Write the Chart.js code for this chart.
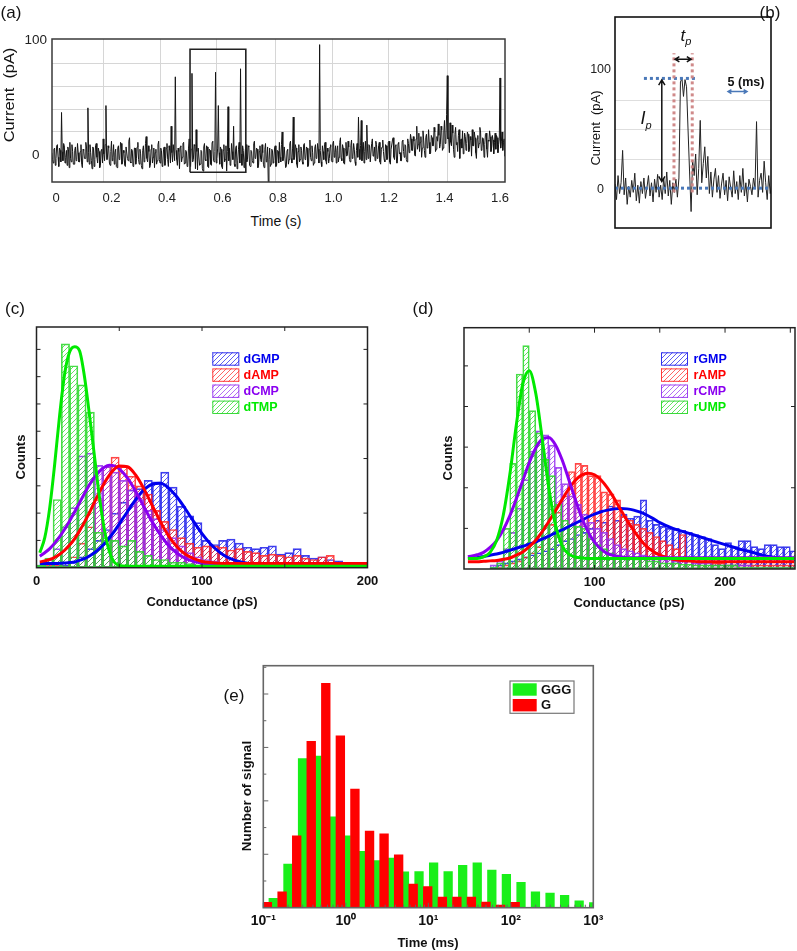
<!doctype html>
<html lang="en">
<head>
<meta charset="utf-8">
<title>Current trace and conductance histograms</title>
<script src="https://cdn.jsdelivr.net/npm/chart.js@4.4.1/dist/chart.umd.min.js"></script>
<style>
  body { margin: 0; background: #fff; font-family: 'Liberation Sans', Arial, sans-serif; }
  #page { position: relative; width: 797px; height: 951px; overflow: hidden; }
  canvas { position: absolute; }
  .t { position: absolute; transform: translate(-50%, -50%); white-space: nowrap; color: #111; line-height: 1; }
  .lbl { font-size: 17px; }
  .b { font-weight: bold; font-size: 13px; }
</style>
</head>
<body>
<div id="page">
  <canvas id="chartA" style="left:0;top:20px" width="530" height="190"></canvas>
  <canvas id="chartB" style="left:580px;top:5px" width="200" height="235"></canvas>
  <canvas id="chartC" style="left:0;top:315px" width="385" height="295"></canvas>
  <canvas id="chartD" style="left:420px;top:315px" width="377" height="295"></canvas>
  <canvas id="chartE" style="left:225px;top:655px" width="385" height="295"></canvas>

  <div class="t lbl" style="left:11px;top:12px">(a)</div>
  <div class="t lbl" style="left:770px;top:12px">(b)</div>
  <div class="t lbl" style="left:15px;top:308px">(c)</div>
  <div class="t lbl" style="left:423px;top:308px">(d)</div>
  <div class="t lbl" style="left:234px;top:695px">(e)</div>

  <div class="t" style="left:9px;top:95px;font-size:14px;transform:translate(-50%,-50%) rotate(-90deg) scaleX(1.17)">Current&nbsp; (pA)</div>
  <div class="t" style="left:276px;top:221px;font-size:14px">Time (s)</div>

  <div class="t" style="left:595px;top:128px;font-size:13px;transform:translate(-50%,-50%) rotate(-90deg)">Current&nbsp; (pA)</div>
  <div class="t" style="left:686px;top:37px;font-size:17px;font-style:italic">t<sub style="font-size:11px">p</sub></div>
  <div class="t" style="left:646px;top:120px;font-size:18px;font-style:italic">I<sub style="font-size:11px">p</sub></div>
  <div class="t b" style="left:746px;top:82px;font-size:12.5px">5 (ms)</div>

  <div class="t b" style="left:20px;top:457px;transform:translate(-50%,-50%) rotate(-90deg)">Counts</div>
  <div class="t b" style="left:202px;top:601px">Conductance (pS)</div>
  <div class="t b" style="left:447px;top:458px;transform:translate(-50%,-50%) rotate(-90deg)">Counts</div>
  <div class="t b" style="left:629px;top:602px">Conductance (pS)</div>
  <div class="t b" style="left:247px;top:796px;font-size:13.5px;transform:translate(-50%,-50%) rotate(-90deg)">Number of signal</div>
  <div class="t b" style="left:428px;top:942px">Time (ms)</div>
</div>

<script>
// ---------- (a) current trace, 1.6 s ----------
const traceAStart = -0.015;   // s
const traceAStep = 0.0025;    // s
const traceA = [
  2,-4,-7,5,6,-9,-3,8,9,-2,-10,6,4,-6,37,3,-5,10,8,-7,-2,4,-9,7,5,-11,11,-3,-6,9,3,-8,-8,4,7,-5,-4,10,2,-6,
  -6,3,9,-8,-11,5,4,-3,-3,11,7,-6,41,2,-8,9,2,-5,-12,7,6,-10,-4,8,10,-2,-7,6,3,-11,-9,4,5,-7,14,1,-5,9,43,-4,
  -4,8,6,-7,-9,3,12,-5,-2,9,-8,2,5,-10,-11,6,8,-4,-3,11,10,-8,-6,4,2,-9,-10,7,7,-3,-5,12,15,-6,-7,5,4,-10,-9,6,
  6,-8,-3,7,11,-4,-8,5,1,-9,-12,4,8,-6,-4,10,16,-3,-6,8,3,-11,-9,5,9,-7,-2,6,-11,2,5,-8,-5,9,12,-4,-7,6,4,-10,
  -8,5,7,-9,-3,6,10,-4,-10,8,4,-7,25,2,-6,9,9,-5,68,4,-4,-9,6,3,-12,7,8,-6,-2,10,11,-8,-7,4,3,-10,-9,6,14,-3,
  -10,5,71,-6,-4,9,8,-12,22,3,-13,6,6,-9,-8,4,3,-12,-14,7,10,-4,-5,8,7,-10,-11,5,4,-8,-9,11,12,-5,-6,3,72,-7,-3,6,
  43,2,-8,7,5,-10,-12,4,9,-6,-4,8,-14,3,42,-5,6,-9,-7,10,3,-4,25,-8,-10,6,8,-12,-5,5,11,-7,75,1,-9,8,4,-11,-6,5,
  9,-6,-4,8,7,-9,-10,4,3,-5,-7,10,12,-3,-2,6,5,-11,-9,3,8,-4,-6,9,2,-8,-11,5,10,-6,-3,7,-25,-4,6,-10,-8,5,4,-7,
  -5,6,8,-10,-9,4,3,-7,11,-2,-6,9,20,-5,-3,7,7,-11,-10,4,5,-8,-4,10,12,-3,-7,6,33,-4,-2,9,6,-8,-11,3,9,-6,-4,7,
  4,-6,-8,9,10,-4,-3,7,6,-10,-9,5,13,-2,-5,8,2,-9,-7,6,9,-3,-2,10,5,-7,96,4,-6,-10,8,3,-4,9,11,-5,-8,6,3,-7,
  -3,7,9,-5,-6,10,12,-2,2,8,-7,4,8,-6,-2,11,15,-3,-5,9,6,-7,-8,5,11,-1,0,12,7,-4,-6,8,13,-3,-1,10,5,-6,-9,4,
  10,-2,33,5,-4,8,30,-5,6,11,-7,3,12,-4,26,6,-3,9,8,-6,-6,10,14,-1,1,7,-5,12,9,-3,-2,8,11,-6,-8,5,7,13,3,-4,
  -6,9,8,-4,-3,11,12,-6,-8,5,5,13,15,-2,-4,8,9,-7,-7,10,11,1,2,-5,-5,12,13,3,-2,9,8,-4,-6,14,10,2,6,18,14,4,
  4,16,12,0,-1,14,25,5,9,19,3,11,16,-2,6,21,13,4,-2,15,18,6,7,22,11,1,2,17,15,8,8,24,20,3,5,16,12,27,17,6,
  9,25,22,4,6,20,30,10,12,35,69,14,15,2,28,11,8,26,19,5,-2,18,24,9,11,3,17,22,-3,12,14,6,21,1,7,19,16,4,10,20,
  18,3,5,16,13,-1,22,8,8,20,15,2,-3,14,17,6,10,24,20,4,6,15,14,-2,9,18,19,5,-2,13,12,21,16,3,7,17,13,1,11,19,
  5,17,15,2,9,14,67,6,12,20,4,11,14,-1,8,16
];
const timeTicksA = [0, 0.2, 0.4, 0.6, 0.8, 1.0, 1.2, 1.4, 1.6];
const timeTickTextA = ['0', '0.2', '0.4', '0.6', '0.8', '1.0', '1.2', '1.4', '1.6'];
const gridTimesA = [0.17, 0.375, 0.58, 0.79, 0.995, 1.197, 1.409];
const currentTicksA = [0, 20, 40, 60, 80, 100];
const zoomBoxTimeA = [0.483, 0.684, 0.684, 0.483, 0.483];
const zoomBoxCurrentA = [-15, -15, 92, 92, -15];

// ---------- (b) single event, ms ----------
const traceBStep = 0.4;       // ms
const traceB = [
  5,-8,12,-3,6,33,-4,10,-12,3,
  -6,8,-2,14,-9,4,-11,7,-3,10,
  -7,2,12,-5,6,-10,9,-2,13,-6,
  4,-8,10,-3,15,-5,8,-12,6,-2,
  9,-6,10,90,93,78,92,86,50,15,
  -18,25,12,30,-4,18,58,6,22,36,
  10,28,-3,15,-6,9,18,-2,12,-7,
  5,14,-4,8,-9,11,2,-6,16,-3,
  7,-8,12,-2,18,-5,6,-10,9,3,
  -4,10,2,57,-6,8,14,-2,24,6,
  -8,12,-3,5
];
const currentTicksB = [0, 25, 50, 75, 100];
const baseTimeB = [0, 41];
const baseCurB = [1.5, 1.5];
const peakTimeB = [7.6, 21.3];
const peakCurB = [93, 93];
const dwellStartB = [15.5, 15.5];
const dwellEndB = [20.3, 20.3];
const dwellCurB = [-2, 114];

// ---------- (c) deoxynucleotides ----------
const binsC = [2.5,7.5,12.5,17.5,22.5,27.5,32.5,37.5,42.5,47.5,52.5,57.5,62.5,67.5,72.5,77.5,82.5,87.5,92.5,97.5,
  102.5,107.5,112.5,117.5,122.5,127.5,132.5,137.5,142.5,147.5,152.5,157.5,162.5,167.5,172.5,177.5,182.5,187.5,192.5,197.5];
const dGMP = [0,0,0.05,0.1,0.2,0.4,0.7,1.0,1.4,2.0, 2.4,2.85,2.9,3.2,3.15,3.5,2.95,2.25,1.9,1.65,
  1.0,0.85,1.0,1.05,0.9,0.75,0.7,0.75,0.8,0.5, 0.55,0.7,0.45,0.35,0.4,0.3,0.25,0.05,0,0];
const dAMP = [0,0.1,0.1,0.2,0.4,0.9,1.5,2.5,3.7,4.05, 3.7,3.35,3.0,2.7,2.1,1.7,1.4,1.1,0.9,0.75,
  0.8,0.8,0.75,0.65,0.7,0.6,0.55,0.45,0.5,0.45, 0.4,0.45,0.35,0.3,0.4,0.45,0.1,0.05,0.05,0.05];
const dCMP = [0.1,0.3,0.7,1.5,2.2,4.1,4.2,3.75,3.7,3.5, 3.2,2.85,2.5,2.1,1.8,1.4,1.1,0.8,0.55,0.4,
  0.3,0.25,0.2,0.2,0.15,0.15,0.1,0.1,0.05,0.05, 0.05,0,0,0,0,0,0,0,0,0];
const dTMP = [0.1,0.35,2.5,8.2,7.4,6.7,5.7,1.3,1.1,1.0, 0.8,1.0,0.6,0.45,0.3,0.3,0.2,0.2,0.15,0.1,
  0.1,0.1,0.05,0.05,0.05,0,0,0,0,0, 0,0,0,0,0,0,0,0,0,0];
const fitXC = [2,5,8,11,14,17,20,23,26,29,32,35,38,41,44,47,50,55,60,65,70,75,80,85,90,95,100,105,110,115,120,130,140,160,180,200];
const fitGMPc = [0.15,0.15,0.15,0.15,0.16,0.17,0.19,0.21,0.27,0.33,0.43,0.55,0.7,0.88,1.09,1.33,1.6,2.06,2.5,2.86,
  3.06,3.09,2.91,2.58,2.15,1.69,1.25,0.88,0.6,0.39,0.27,0.14,0.11,0.1,0.1,0.1];
const fitAMPc = [0.21,0.25,0.3,0.38,0.49,0.64,0.83,1.06,1.35,1.67,2.02,2.4,2.76,3.1,3.39,3.61,3.73,3.7,3.39,2.88,
  2.27,1.67,1.15,0.76,0.49,0.33,0.23,0.19,0.16,0.15,0.15,0.15,0.15,0.15,0.15,0.15];
const fitCMPc = [0.42,0.55,0.7,0.9,1.14,1.41,1.71,2.04,2.38,2.72,3.04,3.31,3.53,3.68,3.75,3.73,3.62,3.28,2.79,2.22,
  1.67,1.19,0.8,0.53,0.34,0.23,0.16,0.13,0.11,0.1,0.1,0.1,0.1,0.1,0.1,0.1];
const fitTMPc = [0.55,1.1,2.2,3.8,5.6,7.1,7.9,8.1,7.95,7.0,5.6,4.1,2.6,1.4,0.6,0.2,0.08,0.05,0.05,0.05,
  0.05,0.05,0.05,0.05,0.05,0.05,0.05,0.05,0.05,0.05,0.05,0.05,0.05,0.05,0.05,0.05];
const condTicksC = [0, 100, 200];

// ---------- (d) ribonucleotides ----------
const binsD = [2.5,7.5,12.5,17.5,22.5,27.5,32.5,37.5,42.5,47.5,52.5,57.5,62.5,67.5,72.5,77.5,82.5,87.5,92.5,97.5,
  102.5,107.5,112.5,117.5,122.5,127.5,132.5,137.5,142.5,147.5,152.5,157.5,162.5,167.5,172.5,177.5,182.5,187.5,192.5,197.5,
  202.5,207.5,212.5,217.5,222.5,227.5,232.5,237.5,242.5,247.5,252.5];
const rGMP = [0,0,0,0,0.05,0.1,0.15,0.2,0.25,0.3, 0.35,0.4,0.45,0.5,0.6,0.7,0.75,0.85,0.9,1.0,
  1.2,1.15,1.55,1.2,1.35,1.25,1.3,1.7,1.2,1.1, 1.05,1.0,1.0,0.95,0.9,0.85,0.8,0.75,0.6,0.5,
  0.65,0.55,0.7,0.7,0.55,0.5,0.6,0.6,0.55,0.55,0.45];
const rAMP = [0,0,0,0,0,0.05,0.1,0.15,0.2,0.3, 0.4,0.55,0.8,1.1,1.4,1.8,2.4,2.6,2.55,2.3,
  2.3,1.9,1.85,1.7,1.3,1.2,1.1,1.0,0.9,0.8, 0.7,0.6,0.5,0.85,0.3,0.25,0.2,0.2,0.15,0.15,
  0.1,0.1,0.1,0.1,0.1,0.1,0.1,0.1,0.1,0.1,0.1];
const rCMP = [0,0,0,0,0.1,0.2,0.5,0.9,1.5,2.2, 2.9,3.4,3.3,3.05,2.5,2.1,1.8,1.6,1.35,1.15,
  1.0,0.9,0.75,0.6,0.5,0.45,0.4,0.35,0.3,0.3, 0.25,0.25,0.2,0.2,0.2,0.15,0.15,0.15,0.1,0.1,
  0.1,0.1,0.1,0.1,0.05,0.05,0.05,0.05,0.05,0.05,0.05];
const rUMP = [0,0,0,0,0.05,0.15,1.0,2.6,4.8,5.5, 3.9,3.35,2.7,2.3,1.6,1.2,1.1,1.05,1.0,0.75,
  0.6,0.5,0.4,0.35,0.3,0.3,0.25,0.3,0.2,0.2, 0.15,0.15,0.15,0.12,0.12,0.1,0.1,0.1,0.1,0.1,
  0.1,0.1,0.05,0.05,0.05,0.05,0.05,0.05,0.05,0.05,0.05];
const fitXD = [3,10,15,20,25,30,35,40,45,50,55,60,65,70,75,80,85,90,95,100,105,110,115,120,125,130,135,140,145,150,
  160,170,180,190,200,210,220,230,240,253];
const fitGMPd = [0.26,0.28,0.31,0.34,0.37,0.41,0.46,0.51,0.56,0.61,0.67,0.74,0.81,0.89,0.96,1.04,1.12,1.2,1.28,1.35,
  1.41,1.45,1.48,1.49,1.48,1.45,1.4,1.33,1.24,1.14,1.0,0.9,0.8,0.7,0.6,0.5,0.42,0.33,0.28,0.25];
const fitAMPd = [0.18,0.18,0.19,0.2,0.21,0.24,0.27,0.34,0.42,0.55,0.71,0.92,1.17,1.43,1.7,1.96,2.17,2.31,2.36,2.32,
  2.19,1.99,1.74,1.46,1.19,0.95,0.73,0.55,0.43,0.34,0.24,0.2,0.18,0.18,0.18,0.18,0.18,0.18,0.18,0.18];
const fitCMPd = [0.3,0.35,0.41,0.53,0.7,0.96,1.3,1.72,2.17,2.62,2.98,3.2,3.24,3.06,2.7,2.23,1.74,1.28,0.92,0.66,
  0.49,0.38,0.33,0.3,0.28,0.28,0.28,0.28,0.28,0.28,0.28,0.28,0.28,0.28,0.28,0.28,0.28,0.28,0.28,0.28];
const fitUMPd = [0.26,0.26,0.3,0.41,0.7,1.31,2.3,3.53,4.55,4.88,4.32,3.19,1.99,1.1,0.59,0.37,0.3,0.27,0.26,0.26,
  0.26,0.26,0.26,0.26,0.26,0.26,0.26,0.26,0.26,0.26,0.26,0.26,0.26,0.26,0.26,0.26,0.26,0.26,0.26,0.26];
const condTicksD = [100, 200];

// ---------- (e) dwell time histogram ----------
const dwellGGG = [0.132,0.199,0.299,0.449,0.674,1.01,1.52,2.28,3.43,5.14,7.72,11.6,17.4,26.1,39.2,58.9,88.4,133,199,299,449,674,1012];
const countGGG = [0.35,1.63,5.58,5.68,3.4,2.69,2.11,1.76,1.86,1.34,1.35,1.68,1.35,1.59,1.68,1.41,1.25,0.95,0.59,0.55,0.46,0.26,0.19];
const dwellG = [0.112,0.169,0.254,0.381,0.572,0.859,1.29,1.94,2.91,4.37,6.56,9.84,14.8,22.2,33.3,50.0,75.1,113];
const countG = [0.2,0.59,2.69,6.23,8.4,6.43,4.44,2.87,2.77,1.98,0.88,0.79,0.4,0.4,0.4,0.21,0.1,0.2];
const decadesE = [0.1, 1, 10, 100, 1000];
const decadeTextE = ['10\u207B\u00B9', '10\u2070', '10\u00B9', '10\u00B2', '10\u00B3'];
const minorE = [0.2,0.3,0.4,0.5,0.6,0.7,0.8,0.9,2,3,4,5,6,7,8,9,20,30,40,50,60,70,80,90,200,300,400,500,600,700,800,900];

// ---------- helpers ----------
const FONT = "'Liberation Sans', Arial, sans-serif";
Chart.defaults.font.family = FONT;
Chart.defaults.color = '#111';

function pts(xs, ys) { return xs.map((x, i) => ({x: x, y: ys[i]})); }

function hatch(rgb) {
  const c = document.createElement('canvas');
  c.width = 5; c.height = 5;
  const g = c.getContext('2d');
  g.strokeStyle = 'rgba(' + rgb + ',0.8)';
  g.lineWidth = 0.9;
  g.beginPath();
  g.moveTo(-1, 6); g.lineTo(6, -1);
  g.moveTo(-1, 1); g.lineTo(1, -1);
  g.moveTo(4, 6); g.lineTo(6, 4);
  g.stroke();
  return g.createPattern(c, 'repeat');
}

// box around the plot plus inward tick marks
function makeFrame(cfg) {
  return {
    id: 'frame',
    afterDatasetsDraw(chart) {
      const {ctx, chartArea: a, scales} = chart;
      ctx.save();
      ctx.strokeStyle = cfg.color;
      ctx.lineWidth = cfg.width;
      ctx.strokeRect(a.left, a.top, a.right - a.left, a.bottom - a.top);
      (cfg.ticks || []).forEach(t => {
        const s = scales[t.axis];
        ctx.lineWidth = 1;
        ctx.beginPath();
        t.values.forEach(v => {
          const p = s.getPixelForValue(v);
          if (t.side === 'bottom') { ctx.moveTo(p, a.bottom); ctx.lineTo(p, a.bottom - t.len); }
          if (t.side === 'top') { ctx.moveTo(p, a.top); ctx.lineTo(p, a.top + t.len); }
          if (t.side === 'left') { ctx.moveTo(a.left, p); ctx.lineTo(a.left + t.len, p); }
          if (t.side === 'right') { ctx.moveTo(a.right, p); ctx.lineTo(a.right - t.len, p); }
        });
        ctx.stroke();
      });
      ctx.restore();
    }
  };
}

function makeLegend(cfg) {
  return {
    id: 'boxLegend',
    afterDraw(chart) {
      const ctx = chart.ctx;
      ctx.save();
      if (cfg.frame) {
        ctx.fillStyle = '#fff';
        ctx.fillRect(cfg.frame[0], cfg.frame[1], cfg.frame[2], cfg.frame[3]);
        ctx.strokeStyle = '#777';
        ctx.lineWidth = 1.2;
        ctx.strokeRect(cfg.frame[0], cfg.frame[1], cfg.frame[2], cfg.frame[3]);
      }
      cfg.items.forEach((it, i) => {
        const y = cfg.y + i * cfg.step;
        if (!cfg.frame) { ctx.fillStyle = '#fff'; ctx.fillRect(cfg.x, y, cfg.w, cfg.h); }
        ctx.fillStyle = it.fill;
        ctx.fillRect(cfg.x, y, cfg.w, cfg.h);
        if (it.stroke) {
          ctx.strokeStyle = it.stroke; ctx.lineWidth = 1;
          ctx.strokeRect(cfg.x + 0.5, y + 0.5, cfg.w - 1, cfg.h - 1);
        }
        ctx.fillStyle = it.color;
        ctx.font = cfg.font;
        ctx.textBaseline = 'middle';
        ctx.fillText(it.label, cfg.textX, y + cfg.h / 2 + 0.5);
      });
      ctx.restore();
    }
  };
}

function makeArrows(list) {
  return {
    id: 'arrows',
    afterDatasetsDraw(chart) {
      const {ctx, scales: {x, y}} = chart;
      ctx.save();
      list.forEach(a => {
        const x1 = x.getPixelForValue(a.x1), y1 = y.getPixelForValue(a.y1);
        const x2 = x.getPixelForValue(a.x2), y2 = y.getPixelForValue(a.y2);
        ctx.strokeStyle = a.color; ctx.lineWidth = a.width;
        ctx.beginPath(); ctx.moveTo(x1, y1); ctx.lineTo(x2, y2);
        [[x1, y1, x2, y2], [x2, y2, x1, y1]].forEach(([px, py, qx, qy]) => {
          const ang = Math.atan2(qy - py, qx - px), L = a.head;
          ctx.moveTo(px + L * Math.cos(ang + 0.55), py + L * Math.sin(ang + 0.55));
          ctx.lineTo(px, py);
          ctx.lineTo(px + L * Math.cos(ang - 0.55), py + L * Math.sin(ang - 0.55));
        });
        ctx.stroke();
      });
      ctx.restore();
    }
  };
}

const baseOpts = {
  responsive: false,
  animation: false,
  events: [],
  plugins: {legend: {display: false}, tooltip: {enabled: false}}
};

// ---------- (a) ----------
new Chart(document.getElementById('chartA'), {
  type: 'line',
  data: {
    datasets: [
      {data: traceA.map((v, i) => ({x: traceAStart + i * traceAStep, y: v})),
       borderColor: '#141414', borderWidth: 1, pointRadius: 0, tension: 0, order: 1},
      {data: pts(zoomBoxTimeA, zoomBoxCurrentA), borderColor: '#222', borderWidth: 1.6,
       pointRadius: 0, tension: 0, order: 0}
    ]
  },
  options: Object.assign({}, baseOpts, {
    layout: {padding: {left: 0, top: 19, right: 25, bottom: 0}},
    scales: {
      x: {type: 'linear', min: -0.0144, max: 1.618,
          afterBuildTicks: s => { s.ticks = timeTicksA.map(v => ({value: v})); },
          ticks: {callback: (v, i) => timeTickTextA[i], autoSkip: false, maxRotation: 0, padding: 1,
                  font: {size: 13}, color: '#222'},
          grid: {display: false}, border: {display: false},
          afterFit: s => { s.height = 28; }},
      x2: {type: 'linear', position: 'bottom', min: -0.0144, max: 1.618,
           afterBuildTicks: s => { s.ticks = gridTimesA.map(v => ({value: v})); },
           ticks: {display: false}, grid: {color: '#d6d6d6', drawTicks: false}, border: {display: false},
           afterFit: s => { s.height = 0; }},
      y: {min: -23.5, max: 100.9,
          afterBuildTicks: s => { s.ticks = currentTicksA.map(v => ({value: v})); },
          ticks: {callback: v => (v === 0 || v === 100) ? String(v) : '', padding: 5, crossAlign: 'center',
                  font: {size: 13.5}, color: '#222'},
          grid: {drawTicks: false, color: c => (c.tick && c.tick.value > 0 && c.tick.value < 100) ? '#d6d6d6' : 'rgba(0,0,0,0)'},
          border: {display: false},
          afterFit: s => { s.width = 52; }}
    }
  }),
  plugins: [makeFrame({color: '#3a3a3a', width: 1.5})]
});

// ---------- (b) ----------
const dotBlue = '#4a78b8';
const dotPink = 'rgba(206,132,132,0.95)';
new Chart(document.getElementById('chartB'), {
  type: 'line',
  data: {
    datasets: [
      {data: traceB.map((v, i) => ({x: i * traceBStep, y: v})), borderColor: '#222', borderWidth: 1,
       pointRadius: 0, tension: 0, order: 2},
      {data: pts(baseTimeB, baseCurB), borderColor: dotBlue, borderWidth: 3, borderDash: [3, 3], pointRadius: 0, order: 1},
      {data: pts(peakTimeB, peakCurB), borderColor: dotBlue, borderWidth: 3, borderDash: [3, 3], pointRadius: 0, order: 1},
      {data: pts(dwellStartB, dwellCurB), borderColor: dotPink, borderWidth: 3, borderDash: [3, 3], pointRadius: 0, order: 0},
      {data: pts(dwellEndB, dwellCurB), borderColor: dotPink, borderWidth: 3, borderDash: [3, 3], pointRadius: 0, order: 0}
    ]
  },
  options: Object.assign({}, baseOpts, {
    layout: {padding: {left: 0, top: 12, right: 9, bottom: 0}},
    scales: {
      x: {type: 'linear', min: 0, max: 41, ticks: {display: false}, grid: {display: false},
          border: {display: false}, afterFit: s => { s.height = 12; }},
      y: {min: -31.7, max: 144.2,
          afterBuildTicks: s => { s.ticks = currentTicksB.map(v => ({value: v})); },
          ticks: {callback: v => (v === 0 || v === 100) ? String(v) : '', padding: 4, crossAlign: 'center',
                  font: {size: 12.5}, color: '#222'},
          grid: {drawTicks: false, color: c => (c.tick && c.tick.value > 0 && c.tick.value < 100) ? '#dedede' : 'rgba(0,0,0,0)'},
          border: {display: false},
          afterFit: s => { s.width = 35; }}
    }
  }),
  plugins: [
    makeFrame({color: '#111', width: 1.6}),
    makeArrows([
      {x1: 12.3, y1: 7, x2: 12.3, y2: 91.7, color: '#111', width: 1.5, head: 6},
      {x1: 15.8, y1: 109, x2: 20.0, y2: 109, color: '#111', width: 1.5, head: 5},
      {x1: 29.7, y1: 82, x2: 34.7, y2: 82, color: dotBlue, width: 1.5, head: 4}
    ])
  ]
});

// ---------- (c) and (d) histograms ----------
const colBlue = '30,30,235', colRed = '255,40,40', colPurple = '150,50,240', colGreen = '40,215,40';
const lineBlue = '#0000ee', lineRed = '#ff0000', linePurple = '#8a00f0', lineGreen = '#00ea00';
const patBlue = hatch(colBlue), patRed = hatch(colRed), patPurple = hatch(colPurple), patGreen = hatch(colGreen);

function histSet(bins, values, rgb, pat, order) {
  return {type: 'bar', data: pts(bins, values), backgroundColor: pat, borderColor: 'rgba(' + rgb + ',0.85)',
          borderWidth: 1, borderSkipped: false, barPercentage: 1, categoryPercentage: 1, grouped: false, order: order};
}
function fitSet(xs, ys, color, order) {
  return {type: 'line', data: pts(xs, ys), borderColor: color, borderWidth: 3, pointRadius: 0,
          cubicInterpolationMode: 'monotone', order: order};
}
function histOptions(cfg) {
  return Object.assign({}, baseOpts, {
    layout: {padding: cfg.padding},
    scales: {
      x: {type: 'linear', min: cfg.xmin, max: cfg.xmax, offset: false,
          afterBuildTicks: s => { s.ticks = cfg.ticks.map(v => ({value: v})); },
          ticks: {autoSkip: false, maxRotation: 0, padding: -2, font: {size: 13, weight: 'bold'}, color: '#111'},
          grid: {display: false}, border: {display: false},
          afterFit: s => { s.height = cfg.xh; }},
      y: {min: 0, max: cfg.ymax, ticks: {display: false}, grid: {display: false}, border: {display: false},
          afterFit: s => { s.width = cfg.yw; }}
    }
  });
}

new Chart(document.getElementById('chartC'), {
  type: 'bar',
  data: {
    datasets: [
      fitSet(fitXC, fitTMPc, lineGreen, -4),
      fitSet(fitXC, fitAMPc, lineRed, -3),
      fitSet(fitXC, fitCMPc, linePurple, -2),
      fitSet(fitXC, fitGMPc, lineBlue, -1),
      histSet(binsC, dTMP, colGreen, patGreen, 1),
      histSet(binsC, dCMP, colPurple, patPurple, 2),
      histSet(binsC, dAMP, colRed, patRed, 3),
      histSet(binsC, dGMP, colBlue, patBlue, 4)
    ]
  },
  options: histOptions({padding: {left: 0, top: 12, right: 17.5, bottom: 0}, xmin: 0, xmax: 200,
                        ticks: condTicksC, xh: 42.3, yw: 36.5, ymax: 8.82}),
  plugins: [
    makeFrame({color: '#222', width: 1.5, ticks: [
      {axis: 'y', side: 'left', values: [1, 2, 3, 4, 5, 6, 7, 8], len: 4},
      {axis: 'y', side: 'right', values: [2, 4, 6, 8], len: 4},
      {axis: 'x', side: 'top', values: [50, 100, 150], len: 4},
      {axis: 'x', side: 'bottom', values: [50, 100, 150], len: 4}
    ]}),
    makeLegend({x: 212.3, y: 37.3, w: 27, h: 13.4, step: 16.1, textX: 243.5, font: 'bold 12.5px ' + FONT,
      items: [
        {label: 'dGMP', fill: patBlue, stroke: 'rgba(' + colBlue + ',0.9)', color: lineBlue},
        {label: 'dAMP', fill: patRed, stroke: 'rgba(' + colRed + ',0.9)', color: lineRed},
        {label: 'dCMP', fill: patPurple, stroke: 'rgba(' + colPurple + ',0.9)', color: linePurple},
        {label: 'dTMP', fill: patGreen, stroke: 'rgba(' + colGreen + ',0.9)', color: lineGreen}
      ]})
  ]
});

new Chart(document.getElementById('chartD'), {
  type: 'bar',
  data: {
    datasets: [
      fitSet(fitXD, fitUMPd, lineGreen, -4),
      fitSet(fitXD, fitCMPd, linePurple, -3),
      fitSet(fitXD, fitAMPd, lineRed, -2),
      fitSet(fitXD, fitGMPd, lineBlue, -1),
      histSet(binsD, rUMP, colGreen, patGreen, 1),
      histSet(binsD, rCMP, colPurple, patPurple, 2),
      histSet(binsD, rAMP, colRed, patRed, 3),
      histSet(binsD, rGMP, colBlue, patBlue, 4)
    ]
  },
  options: histOptions({padding: {left: 0, top: 12.7, right: 2, bottom: 0}, xmin: 0, xmax: 253.6,
                        ticks: condTicksD, xh: 41, yw: 44, ymax: 5.94}),
  plugins: [
    makeFrame({color: '#222', width: 1.5, ticks: [
      {axis: 'y', side: 'left', values: [1, 2, 3, 4, 5], len: 4},
      {axis: 'y', side: 'right', values: [2, 4], len: 4},
      {axis: 'x', side: 'top', values: [50, 100, 150, 200, 250], len: 5},
      {axis: 'x', side: 'bottom', values: [50, 100, 150, 200, 250], len: 4}
    ]}),
    makeLegend({x: 241, y: 37.3, w: 27, h: 13.4, step: 16.1, textX: 273.5, font: 'bold 12.5px ' + FONT,
      items: [
        {label: 'rGMP', fill: patBlue, stroke: 'rgba(' + colBlue + ',0.9)', color: lineBlue},
        {label: 'rAMP', fill: patRed, stroke: 'rgba(' + colRed + ',0.9)', color: lineRed},
        {label: 'rCMP', fill: patPurple, stroke: 'rgba(' + colPurple + ',0.9)', color: linePurple},
        {label: 'rUMP', fill: patGreen, stroke: 'rgba(' + colGreen + ',0.9)', color: lineGreen}
      ]})
  ]
});

// ---------- (e) ----------
const barGreen = '#19ef19', barRed = '#ff0000';
new Chart(document.getElementById('chartE'), {
  type: 'bar',
  data: {
    datasets: [
      {label: 'GGG', data: pts(dwellGGG, countGGG), backgroundColor: barGreen, barThickness: 8.6, grouped: false, order: 1},
      {label: 'G', data: pts(dwellG, countG), backgroundColor: barRed, barThickness: 8.7, grouped: false, order: 0}
    ]
  },
  options: Object.assign({}, baseOpts, {
    layout: {padding: {left: 0, top: 10.7, right: 16.7, bottom: 0}},
    scales: {
      x: {type: 'logarithmic', min: 0.1, max: 1000, offset: false,
          afterBuildTicks: s => { s.ticks = decadesE.map(v => ({value: v})); },
          ticks: {callback: (v, i) => decadeTextE[i], autoSkip: false, maxRotation: 0, padding: -3,
                  font: {size: 14, weight: 'bold'}, color: '#111'},
          grid: {display: false}, border: {display: false},
          afterFit: s => { s.height = 42.3; }},
      y: {min: 0, max: 9.06, ticks: {display: false}, grid: {display: false}, border: {display: false},
          afterFit: s => { s.width = 38.3; }}
    }
  }),
  plugins: [
    makeFrame({color: '#666', width: 1.6, ticks: [
      {axis: 'y', side: 'left', values: [2, 4, 6, 8], len: 5},
      {axis: 'y', side: 'left', values: [1, 3, 5, 7, 9], len: 3},
      {axis: 'x', side: 'bottom', values: decadesE, len: 5},
      {axis: 'x', side: 'bottom', values: minorE, len: 3}
    ]}),
    makeLegend({frame: [285, 26, 64, 32.3], x: 287.7, y: 28.3, w: 24, h: 12.4, step: 15.7, textX: 316,
      font: 'bold 13px ' + FONT,
      items: [
        {label: 'GGG', fill: barGreen, color: '#111'},
        {label: 'G', fill: barRed, color: '#111'}
      ]})
  ]
});
</script>
</body>
</html>
